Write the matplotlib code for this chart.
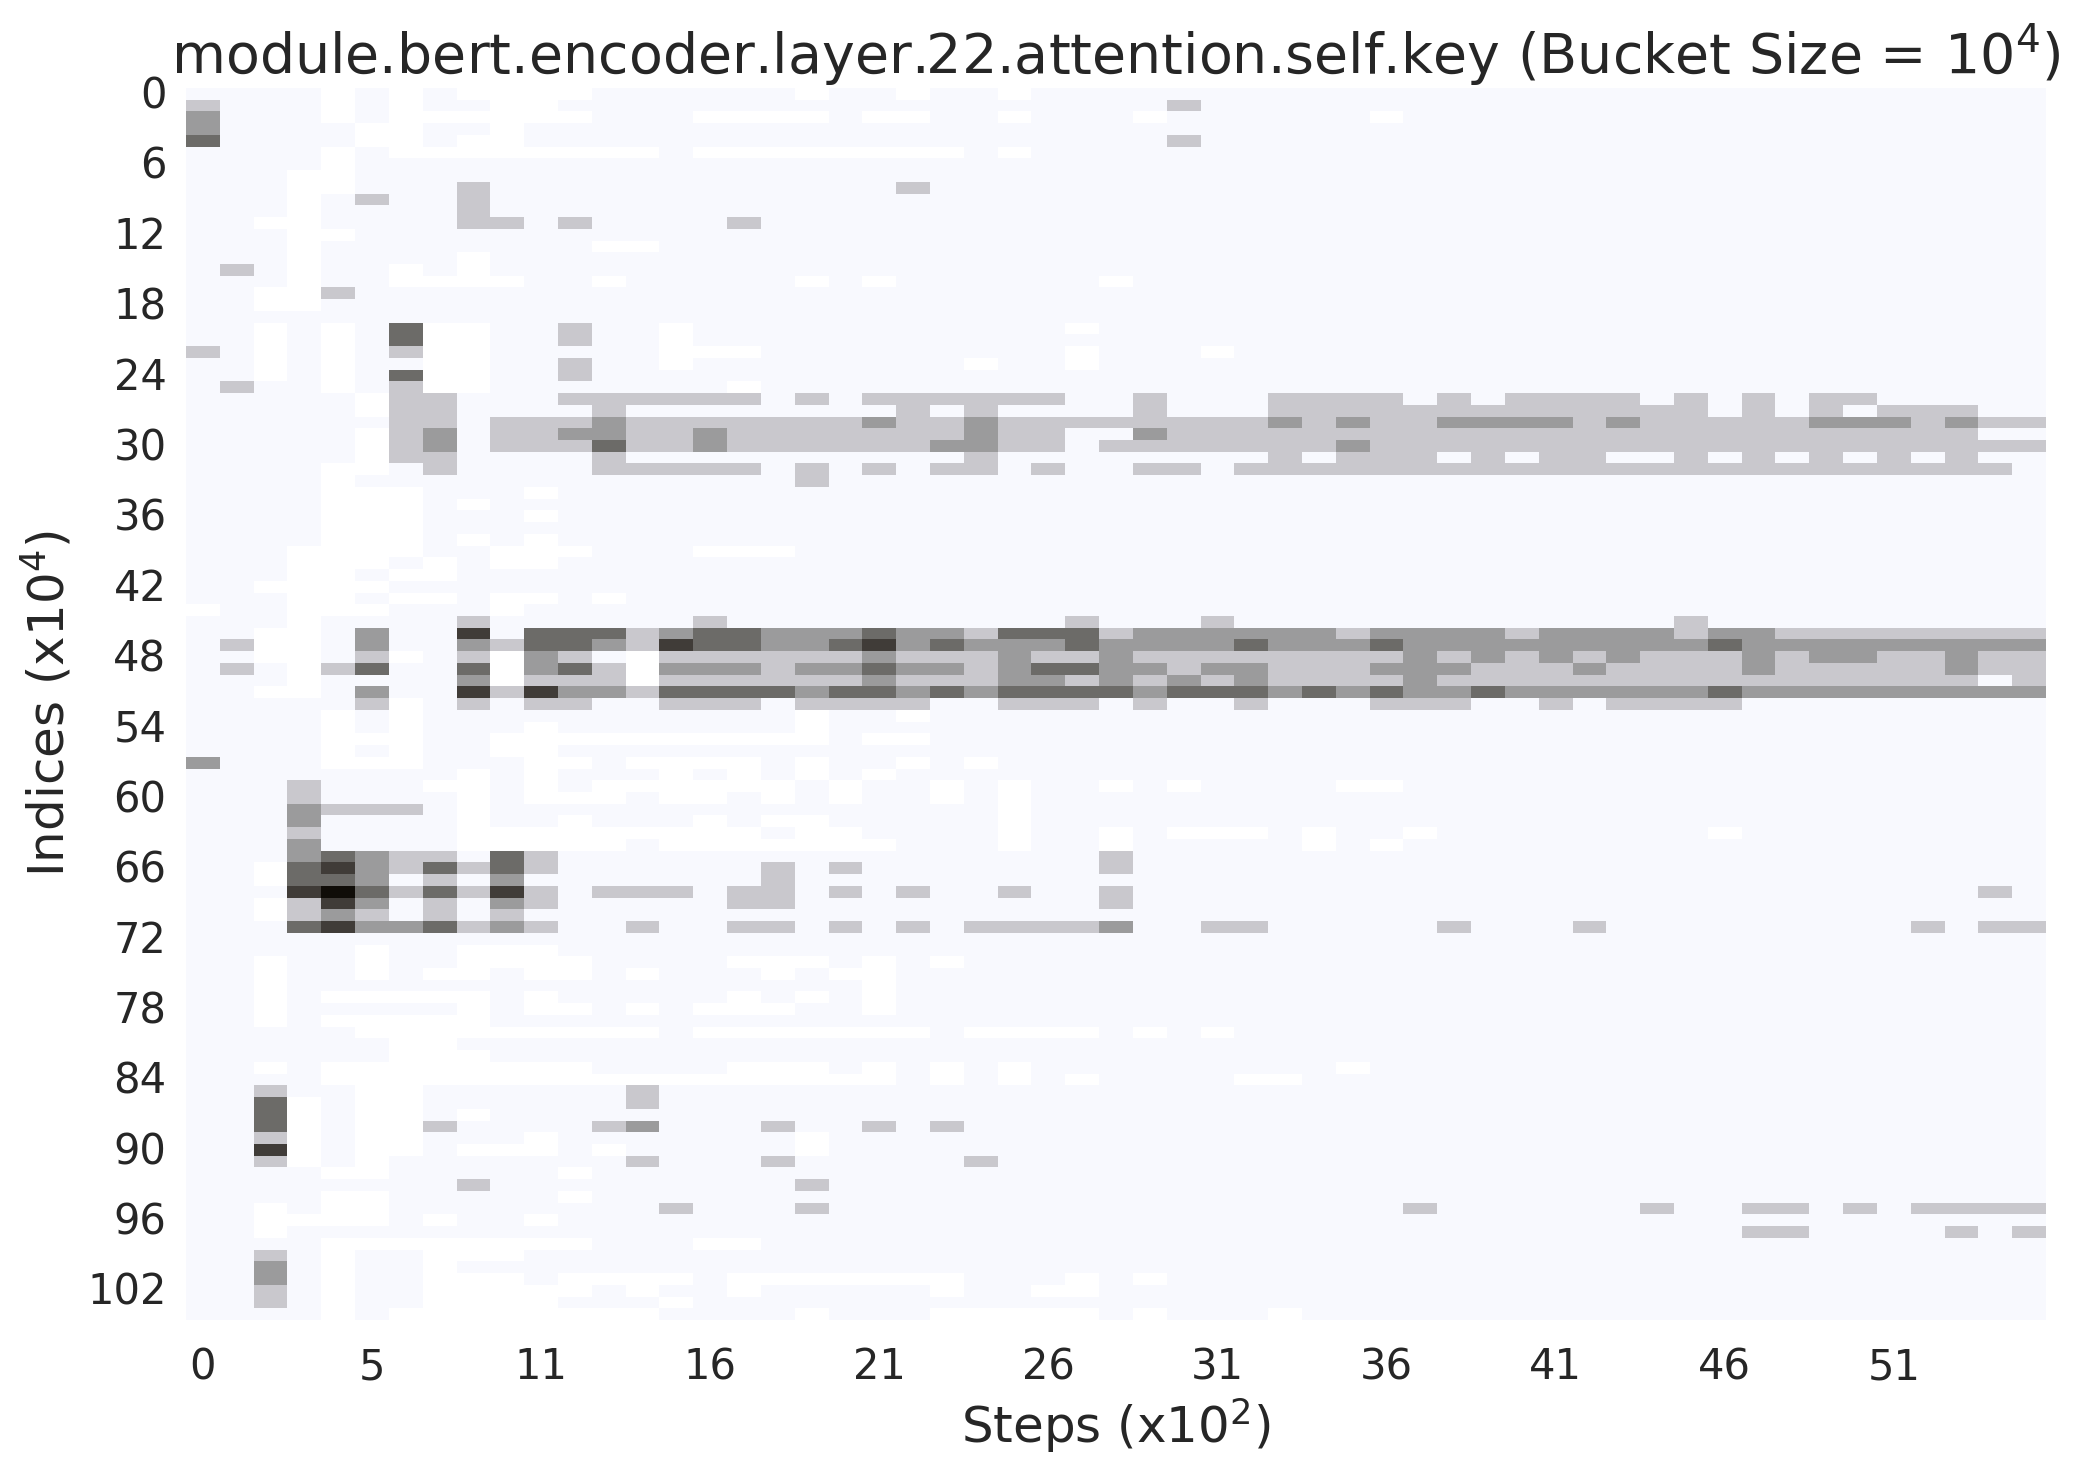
import numpy as np
import matplotlib
matplotlib.use("Agg")
import matplotlib.pyplot as plt
from matplotlib.colors import ListedColormap, BoundaryNorm

N_ROWS = 105
N_COLS = 55

x_labels = [0, 5, 11, 16, 21, 26, 31, 36, 41, 46, 51]
y_labels = [0, 6, 12, 18, 24, 30, 36, 42, 48, 54, 60, 66, 72, 78, 84, 90, 96, 102]

# cells by row: "col col-col ..."
white = {
    0: "4 6 8-11 18 21 24", 1: "4 6 9-10", 2: "4 6-11 15-18 20-21 24 28 35", 3: "5-6 9",
    4: "5-6 8-9", 5: "4 6-13 15-22 24", 6: "4", 7: "3-4", 8: "3-4", 9: "3", 10: "3",
    11: "2-3", 12: "3-4", 13: "3 12-13", 14: "3 8", 15: "3 6 8", 16: "3 6-9 12 18 20 27",
    17: "2-3", 18: "2-3", 20: "2 4 7-8 14 26", 21: "2 4 7-8 14", 22: "2 4 7-8 14-16 26 30",
    23: "2 4 7-8 14 23 26", 24: "2 4 7-8", 25: "4 7-8 16", 26: "5", 27: "5", 29: "5",
    30: "5", 31: "5", 32: "4-5", 33: "4", 34: "4-6 10", 35: "4-6 8", 36: "4-6 10",
    37: "4-6", 38: "4-6 8 10", 39: "3-6 9-11 15-17", 40: "3-5 7 9-10", 41: "3-4 6-7",
    42: "2-5", 43: "3-4 6-7 9-10 12", 44: "0 3-5 9", 45: "3", 46: "2-3", 47: "2-3",
    48: "2-3 6 9 13", 49: "3 9 13", 50: "3 9 13", 51: "2-3", 52: "6", 53: "4 6 18 21",
    54: "4 6 10 18", 55: "4-6 9-18 20-21", 56: "4 6 9-10", 57: "4-6 10-11 13-16 18 21 23",
    58: "8 10 14 16 18 20", 59: "7-8 10 12-17 19 22 24 27 29 34-35",
    60: "8 10-12 14-15 17 19 22 24", 61: "8 24", 62: "8 11 15 17-18 24",
    63: "8-16 18-19 24 27 29-31 33 36 45", 64: "8-12 14-20 24 27 33 35", 66: "2", 67: "2",
    69: "2", 70: "2", 73: "5 8-10", 74: "2 5 8-11 16-18 20 22",
    75: "2 5 7-8 10-11 13 17 19-20", 76: "2 20", 77: "2 4-8 10 16 18 20",
    78: "2 8 10-11 13 15-17 20", 79: "2 4-8", 80: "5-13 15-21 23-26 28 30", 81: "6-7",
    82: "6-8", 83: "2 4-11 16-18 20 22 24 34", 84: "4-20 22 24 26 31-32", 85: "5-6",
    86: "3 5-6", 87: "3 5-6 8", 88: "3 5-6", 89: "3 5-6 10 18", 90: "3 5-6 8-10 12 18",
    91: "3 5", 92: "4-5 11", 94: "4-5 11", 95: "2 4-5", 96: "2-5 7 10", 97: "2",
    98: "4-11 15-16", 99: "4 7-9", 100: "4 7", 101: "4 7-9 11-14 16-22 26 28",
    102: "4 7-11 13 16 22 25-26", 103: "4 7-10 14", 104: "4 6-13 18 22-26 28 32",
}

level_1 = {
    1: "0 29", 4: "29", 8: "8 21", 9: "5 8", 10: "8", 11: "8-9 11 16", 15: "1", 17: "4",
    20: "11", 21: "11", 22: "0 6", 23: "11", 24: "11", 25: "1 6",
    26: "6-7 11-16 18 20-25 28 32-35 37 39-42 44 46 48-49",
    27: "6-7 12 21 23 28 32-44 46 48 50-52",
    28: "6-7 9-11 13-19 21-22 24-31 33 35-36 41 43-47 51 53-54",
    29: "6 9-10 13-14 16-22 24-25 29-52",
    30: "6 9-11 13-14 16-21 24-25 27-33 35-54",
    31: "6-7 12 23 32 34-36 38 40-41 44 46 48 50 52",
    32: "7 12-16 18 20 22-23 25 28-29 31-53", 33: "18",
    45: "8 15 26 30 44", 46: "13 23 27 34 39 44 47-54", 47: "1 9 13",
    48: "5 8 11 14-19 21-23 25-26 28-35 37 39 41 43-45 47 50-51 53-54",
    49: "1 4 12 17 23 29 32-34 38-40 42-45 47-51 53-54",
    50: "10-12 14-19 21-23 26 28 30 32-35 37-52 54", 51: "9 13",
    52: "5 8 10-11 14-16 18-21 24-26 28 31 35-37 40 42-45",
    59: "3", 60: "3", 61: "4-6", 63: "3", 65: "6-7 10 27", 66: "6 8 10 17 19 27", 67: "7 17",
    68: "6 8 10 12-14 16-17 19 21 24 27 53", 69: "3 7 10 16-17 27", 70: "3 5 7 9",
    71: "8 10 13 16-17 19 21 23-26 30-31 37 41 51 53-54",
    85: "2 13", 86: "13", 88: "7 12 17 20 22", 89: "2", 91: "2 13 17 23", 93: "8 18",
    95: "14 18 36 43 46-47 49 51-54", 97: "46-47 52 54", 99: "2", 102: "2", 103: "2",
}

level_2 = {
    2: "0", 3: "0", 28: "12 20 23 32 34 37-40 42 48-50 52", 29: "7 11-12 15 23 28",
    30: "7 15 22-23 34", 46: "5 14 17-19 21-22 28-33 35-38 40-43 45-46",
    47: "5 8 12 17-18 21 23-25 27-30 32-34 36-44 46-54",
    48: "10 20 24 27 36 38 40 42 46 48-49 52",
    49: "10 14-16 18-19 21-22 24 27-28 30-31 35-37 41 46 52",
    50: "8 20 24-25 27 29 31 36",
    51: "5 11-12 18 21 23 28 32 34 36-37 39-44 46-54",
    57: "0", 61: "3", 62: "3", 64: "3", 65: "3 5", 66: "5", 67: "5 9", 69: "5 9", 70: "4",
    71: "5-6 9 27", 88: "13", 100: "2", 101: "2",
}

level_3 = {
    4: "0", 20: "6", 21: "6", 24: "6", 30: "12", 46: "10-12 15-16 20 24-26",
    47: "10-11 15-16 19 22 26 31 35 45", 49: "5 8 11 20 25-26",
    51: "14-17 19-20 22 24-27 29-31 33 35 38 45", 65: "4 9", 66: "3 7 9", 67: "3-4",
    68: "5 7", 71: "3 7", 86: "2", 87: "2", 88: "2",
}

level_4 = {
    46: "8", 47: "14 20", 51: "8 10", 66: "4", 68: "3 9", 69: "4", 71: "4", 90: "2",
}

level_5 = {68: "4"}

palette = ["#ffffff", "#f8f9fe", "#c9c8cd", "#9b9b9c", "#6c6b68", "#403c38", "#100d08"]


def fill(grid, cells, value):
    for row, spec in cells.items():
        for part in spec.split():
            a, _, b = part.partition("-")
            grid[row, int(a):int(b or a) + 1] = value


grid = np.ones((N_ROWS, N_COLS))
for value, cells in enumerate([white, None, level_1, level_2, level_3, level_4, level_5]):
    if cells is not None:
        fill(grid, cells, value)

plt.rcParams["font.family"] = "DejaVu Sans"
text_color = "#262626"

fig = plt.figure(figsize=(10.4, 7.36), dpi=200)
ax = fig.add_axes([186 / 2080, 1 - 1320 / 1472, 1860 / 2080, 1232 / 1472])

cmap = ListedColormap(palette)
norm = BoundaryNorm(np.arange(-0.5, 7.5), cmap.N)
ax.pcolormesh(np.arange(N_COLS + 1), np.arange(N_ROWS + 1), grid, cmap=cmap, norm=norm,
              antialiased=False, linewidth=0)
ax.set_xlim(0, N_COLS)
ax.set_ylim(N_ROWS, 0)

for side in ax.spines.values():
    side.set_visible(False)

ax.set_xticks(np.arange(len(x_labels)) * 5 + 0.5)
ax.set_xticklabels(x_labels)
ax.set_yticks(np.arange(len(y_labels)) * 6 + 0.3)
ax.set_yticklabels(y_labels)
ax.tick_params(axis="both", length=0, labelsize=15, labelcolor=text_color)
ax.tick_params(axis="y", pad=7)
ax.tick_params(axis="x", pad=9.5)

ax.set_xlabel(r"Steps (x$\mathdefault{10^{2}}$)", fontsize=18, color=text_color, labelpad=2.6)
ax.set_ylabel(r"Indices (x$\mathdefault{10^{4}}$)", fontsize=18, color=text_color, labelpad=4.5)
ax.set_title(r"module.bert.encoder.layer.22.attention.self.key (Bucket Size = $\mathdefault{10^{4}}$)",
             fontsize=20, color=text_color, pad=5)

fig.savefig("out.png", dpi=200)
